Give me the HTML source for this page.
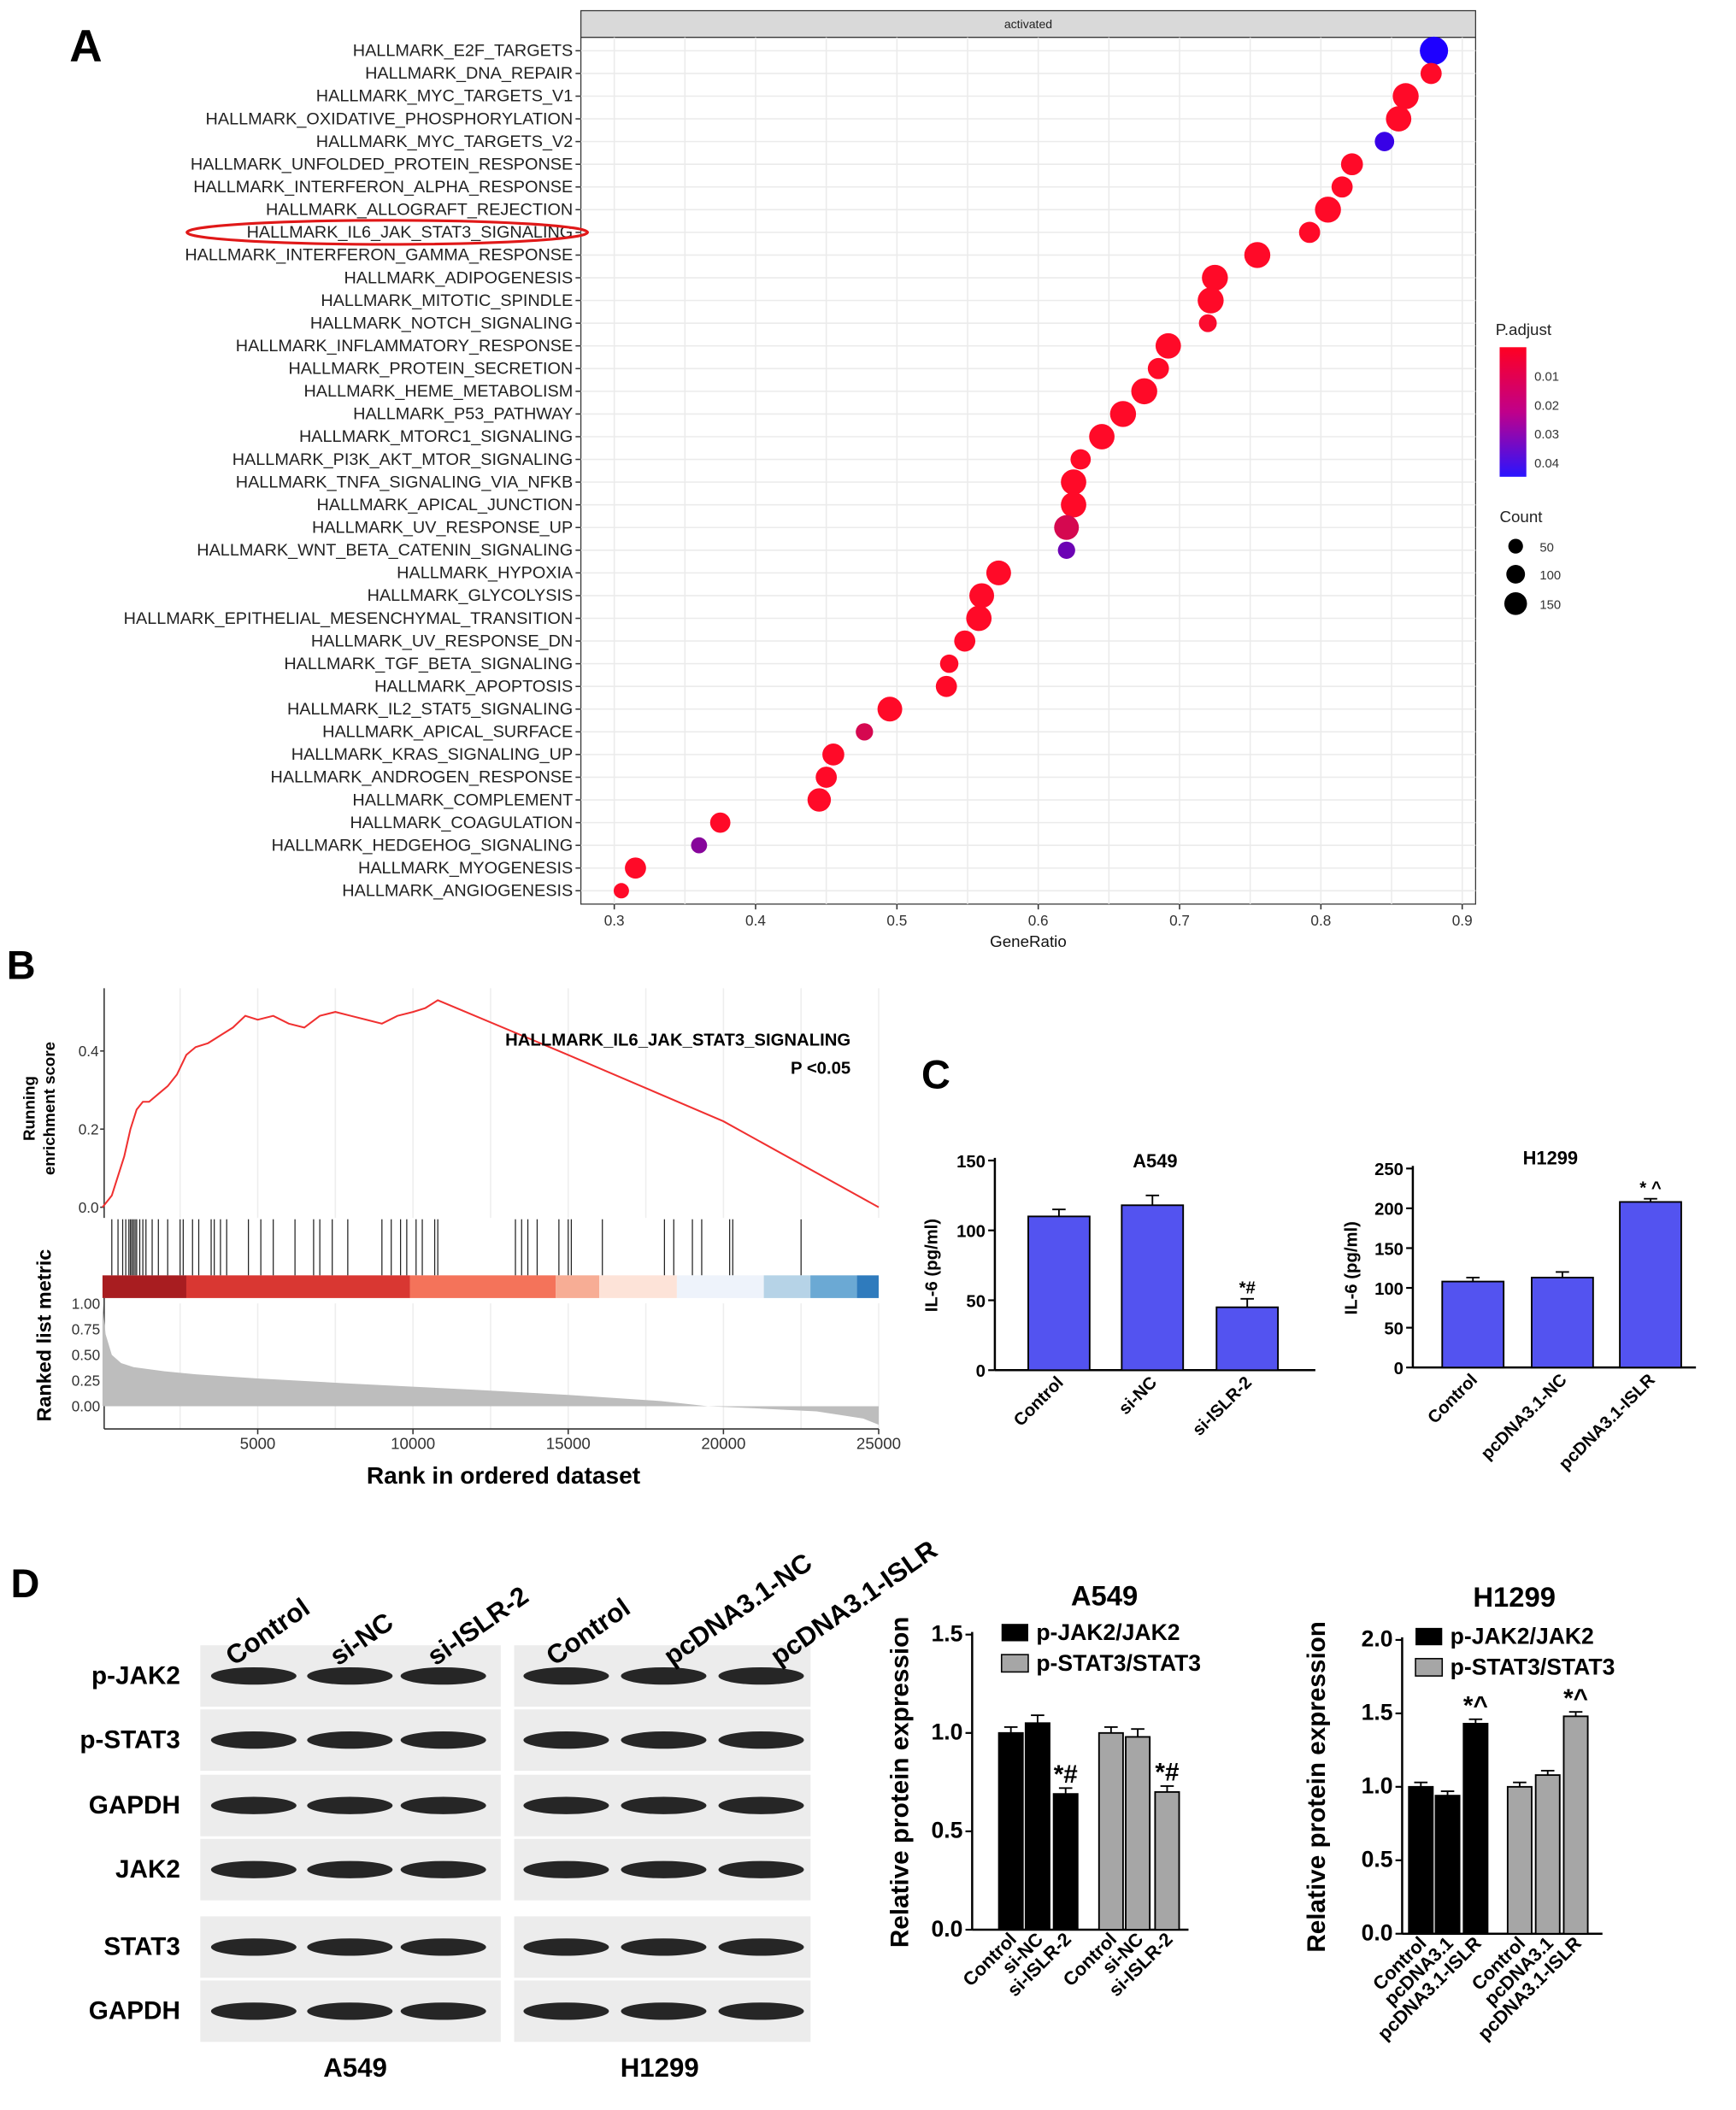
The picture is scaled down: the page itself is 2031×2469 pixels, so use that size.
<!DOCTYPE html>
<html><head><meta charset="utf-8"><style>
html,body{margin:0;padding:0;background:#fff}
svg{display:block;font-family:"Liberation Sans",Arial,sans-serif}
</style></head><body>
<svg id="fig" xmlns="http://www.w3.org/2000/svg" width="2031" height="2469" viewBox="0 0 1300 1580" preserveAspectRatio="none"></svg>
<script>
// ---------- Panel A data ----------
const pathways=["HALLMARK_E2F_TARGETS","HALLMARK_DNA_REPAIR","HALLMARK_MYC_TARGETS_V1","HALLMARK_OXIDATIVE_PHOSPHORYLATION","HALLMARK_MYC_TARGETS_V2","HALLMARK_UNFOLDED_PROTEIN_RESPONSE","HALLMARK_INTERFERON_ALPHA_RESPONSE","HALLMARK_ALLOGRAFT_REJECTION","HALLMARK_IL6_JAK_STAT3_SIGNALING","HALLMARK_INTERFERON_GAMMA_RESPONSE","HALLMARK_ADIPOGENESIS","HALLMARK_MITOTIC_SPINDLE","HALLMARK_NOTCH_SIGNALING","HALLMARK_INFLAMMATORY_RESPONSE","HALLMARK_PROTEIN_SECRETION","HALLMARK_HEME_METABOLISM","HALLMARK_P53_PATHWAY","HALLMARK_MTORC1_SIGNALING","HALLMARK_PI3K_AKT_MTOR_SIGNALING","HALLMARK_TNFA_SIGNALING_VIA_NFKB","HALLMARK_APICAL_JUNCTION","HALLMARK_UV_RESPONSE_UP","HALLMARK_WNT_BETA_CATENIN_SIGNALING","HALLMARK_HYPOXIA","HALLMARK_GLYCOLYSIS","HALLMARK_EPITHELIAL_MESENCHYMAL_TRANSITION","HALLMARK_UV_RESPONSE_DN","HALLMARK_TGF_BETA_SIGNALING","HALLMARK_APOPTOSIS","HALLMARK_IL2_STAT5_SIGNALING","HALLMARK_APICAL_SURFACE","HALLMARK_KRAS_SIGNALING_UP","HALLMARK_ANDROGEN_RESPONSE","HALLMARK_COMPLEMENT","HALLMARK_COAGULATION","HALLMARK_HEDGEHOG_SIGNALING","HALLMARK_MYOGENESIS","HALLMARK_ANGIOGENESIS"];
const geneRatio=[0.880,0.878,0.860,0.855,0.845,0.822,0.815,0.805,0.792,0.755,0.725,0.722,0.720,0.692,0.685,0.675,0.660,0.645,0.630,0.625,0.625,0.620,0.620,0.572,0.560,0.558,0.548,0.537,0.535,0.495,0.477,0.455,0.450,0.445,0.375,0.360,0.315,0.305];
const padj=[0.045,0.002,0.002,0.002,0.040,0.002,0.002,0.002,0.002,0.002,0.002,0.002,0.003,0.002,0.002,0.002,0.002,0.002,0.002,0.002,0.002,0.010,0.030,0.002,0.002,0.002,0.002,0.002,0.002,0.002,0.010,0.002,0.002,0.002,0.002,0.025,0.002,0.002];
const counts=[190,80,150,140,60,90,80,150,80,150,150,150,45,140,80,150,150,140,70,140,140,130,40,130,130,140,80,50,80,130,40,90,80,110,70,30,80,25];
const xTicksA=[0.3,0.4,0.5,0.6,0.7,0.8,0.9];
// ---------- Panel B data ----------
const esRank=[0,300,500,700,900,1100,1300,1500,1800,2100,2400,2700,3000,3400,3800,4200,4600,5000,5500,6000,6500,7000,7500,8000,8500,9000,9500,10000,10400,10800,15000,20000,25000];
const esVal=[0.0,0.03,0.08,0.13,0.2,0.25,0.27,0.27,0.29,0.31,0.34,0.39,0.41,0.42,0.44,0.46,0.49,0.48,0.49,0.47,0.46,0.49,0.5,0.49,0.48,0.47,0.49,0.5,0.51,0.53,0.39,0.22,0.0];
const hitRanks=[300,500,650,750,850,900,950,1000,1050,1100,1200,1300,1400,1600,1800,2100,2500,2600,2900,3100,3500,3600,3800,4000,4700,5100,5500,6200,6800,7000,7400,7900,9000,9300,9600,9800,10100,10300,10700,10800,13300,13500,13700,14000,14700,15000,15100,16100,18100,18400,19000,19300,20200,20300,22500];
const metricRank=[0,100,300,600,1000,2000,3000,5000,8000,10000,12000,15000,18000,19500,21000,23000,24500,25000];
const metricVal=[1.0,0.7,0.5,0.42,0.38,0.34,0.31,0.27,0.22,0.19,0.16,0.11,0.05,0.0,-0.02,-0.05,-0.12,-0.18];
const bandEnds=[2700,9900,14600,16000,18500,21300,22800,24300,25000];
const bandColors=["#a81d20","#d93732","#f4735a","#f7ad95","#fde3d8","#eef3fb","#b6d3e7","#6ba9d4","#2f7bbd"];
const rankTicks=[5000,10000,15000,20000,25000];
// ---------- Panel C data ----------
const cCatsA=["Control","si-NC","si-ISLR-2"];
const cValsA=[110,118,45];
const cErrA=[5,7,6];
const cCatsH=["Control","pcDNA3.1-NC","pcDNA3.1-ISLR"];
const cValsH=[108,113,208];
const cErrH=[5,7,4];
// ---------- Panel D data ----------
const dCatsA=["Control","si-NC","si-ISLR-2"];
const dJakA=[1.0,1.05,0.69];
const dStatA=[1.0,0.98,0.70];
const dCatsH=["Control","pcDNA3.1","pcDNA3.1-ISLR"];
const dJakH=[1.0,0.94,1.43];
const dStatH=[1.0,1.08,1.48];

const NS="http://www.w3.org/2000/svg";
const svg=document.getElementById('fig');
function el(tag,attrs,parent,text){const e=document.createElementNS(NS,tag);for(const k in attrs)e.setAttribute(k,attrs[k]);if(text!==undefined)e.textContent=text;(parent||svg).appendChild(e);return e;}
function grp(name){const g=el('g',{});return g;}

// ===== Panel A =====
(function(){
const g=grp('panel-a-dotplot');
const t=el('text',{x:52,y:46,'font-size':34,'font-weight':'bold'},g,'A');
const L=435,R=1105,T=28,B=677;
const xs=v=>460+(v-0.3)*1058.3;
const ys=i=>38+i*17.0;
el('rect',{x:L,y:8,width:R-L,height:20,fill:'#d9d9d9',stroke:'#333','stroke-width':0.8},g);
const st=el('text',{x:(L+R)/2,y:21,'font-size':9,'text-anchor':'middle',fill:'#222'},g,'activated');
el('rect',{x:L,y:T,width:R-L,height:B-T,fill:'#fff',stroke:'#333','stroke-width':0.8},g);
for(let v=0.3;v<=0.9001;v+=0.05){el('line',{x1:xs(v),x2:xs(v),y1:T,y2:B,stroke:'#ebebeb','stroke-width':1},g);}
pathways.forEach((p,i)=>el('line',{x1:L,x2:R,y1:ys(i),y2:ys(i),stroke:'#ebebeb','stroke-width':1},g));
xTicksA.forEach(v=>{el('line',{x1:xs(v),x2:xs(v),y1:B,y2:B+4,stroke:'#333'},g);const tt=el('text',{x:xs(v),y:B+16,'font-size':11,'text-anchor':'middle',fill:'#333'},g,String(v));});
const xt=el('text',{x:770,y:709,'font-size':12,'text-anchor':'middle',fill:'#111'},g,'GeneRatio');
function col(p){const f=Math.min(1,Math.max(0,(p-0.002)/0.043));const r=Math.round(255*(1-f)+30*f),b=Math.round(40*(1-f)+255*f);return `rgb(${r},${Math.round(10*(1-f))},${b})`;}
pathways.forEach((p,i)=>{
 el('line',{x1:L-4,x2:L,y1:ys(i),y2:ys(i),stroke:'#333'},g);
 const tl=el('text',{x:L-6,y:ys(i)+4,'font-size':12.7,'text-anchor':'end',fill:'#222'},g,p);
 const c=el('circle',{cx:xs(geneRatio[i]),cy:ys(i),r:3+Math.sqrt(counts[i])*0.55,fill:col(padj[i])},g);
 
 
});
const ov=el('ellipse',{cx:290,cy:ys(8),rx:150,ry:9,fill:'none',stroke:'#e01818','stroke-width':2},g);
const lg=el('defs',{},g);const gr=el('linearGradient',{id:'pg',x1:0,y1:0,x2:0,y2:1},lg);
el('stop',{offset:'0','stop-color':'#ff0022'},gr);el('stop',{offset:'0.5','stop-color':'#c0008a'},gr);el('stop',{offset:'1','stop-color':'#2a14ff'},gr);
const lt=el('text',{x:1120,y:251,'font-size':12,fill:'#222'},g,'P.adjust');
const cb=el('rect',{x:1123,y:260,width:20,height:97,fill:'url(#pg)'},g);
["0.01","0.02","0.03","0.04"].forEach((s,k)=>{el('text',{x:1149,y:285+k*21.7,'font-size':9.5,fill:'#333'},g,s);});
el('text',{x:1123,y:391,'font-size':12,fill:'#222'},g,'Count');
[[50,409,5.5],[100,430,7],[150,452,8.5]].forEach(a=>{el('circle',{cx:1135,cy:a[1],r:a[2],fill:'#000'},g);el('text',{x:1153,y:a[1]+4,'font-size':9.5,fill:'#333'},g,String(a[0]));});
})();

// ===== Panel B =====
(function(){
const g=grp('panel-b-gsea');
el('text',{x:5,y:733,'font-size':30,'font-weight':'bold'},g,'B');
const L=78,R=658;
const xr=r=>76.75+r*0.02325;
const yes=v=>904-v*292.5;
const ym=v=>1053-v*77;
rankTicks.concat([2500,7500,12500,17500,22500]).forEach(r=>{el('line',{x1:xr(r),x2:xr(r),y1:740,y2:912,stroke:'#eee'},g);el('line',{x1:xr(r),x2:xr(r),y1:976,y2:1070,stroke:'#eee'},g);});
el('line',{x1:L,x2:L,y1:740,y2:912,stroke:'#333'},g);
[0,0.2,0.4].forEach(v=>{el('text',{x:L-4,y:yes(v)+4,'font-size':11,'text-anchor':'end',fill:'#333'},g,v.toFixed(1));el('line',{x1:L-3,x2:L,y1:yes(v),y2:yes(v),stroke:'#333'},g);});
const yt=el('text',{transform:'translate(30,830) rotate(-90)','font-size':12,'font-weight':'bold','text-anchor':'middle'},g);
el('tspan',{x:0,dy:-4},yt,'Running');el('tspan',{x:0,dy:15},yt,'enrichment score');

const pts=esRank.map((r,i)=>xr(r)+','+yes(esVal[i])).join(' ');
const es=el('polyline',{points:pts,fill:'none',stroke:'#f03030','stroke-width':1.3},g);
el('text',{x:637,y:783,'font-size':13,'font-weight':'bold','text-anchor':'end'},g,'HALLMARK_IL6_JAK_STAT3_SIGNALING');
el('text',{x:637,y:804,'font-size':13,'font-weight':'bold','text-anchor':'end'},g,'P <0.05');
hitRanks.forEach(r=>{const h=el('line',{x1:xr(r),x2:xr(r),y1:913,y2:955,stroke:'#222','stroke-width':0.8},g);});
let prev=0;bandEnds.forEach((e,i)=>{const b=el('rect',{x:xr(prev),y:955,width:xr(e)-xr(prev),height:17,fill:bandColors[i]},g);prev=e;});
el('line',{x1:L,x2:L,y1:972,y2:1070,stroke:'#333'},g);el('line',{x1:L,x2:R,y1:1070,y2:1070,stroke:'#333'},g);
[0,0.25,0.5,0.75,1].forEach(v=>{el('text',{x:L-3,y:ym(v)+4,'font-size':11,'text-anchor':'end',fill:'#333'},g,v.toFixed(2));});
let ap='M'+xr(0)+','+ym(0);metricRank.forEach((r,i)=>ap+=' L'+xr(r)+','+ym(metricVal[i]));ap+=' L'+xr(25000)+','+ym(0)+'Z';
const ar=el('path',{d:ap,fill:'#bdbdbd'},g);
rankTicks.forEach(r=>{el('line',{x1:xr(r),x2:xr(r),y1:1070,y2:1074,stroke:'#333'},g);el('text',{x:xr(r),y:1085,'font-size':12,'text-anchor':'middle',fill:'#333'},g,String(r));});
el('text',{transform:'translate(38,1000) rotate(-90)','font-size':15,'font-weight':'bold','text-anchor':'middle'},g,'Ranked list metric');
el('text',{x:377,y:1111,'font-size':18,'font-weight':'bold','text-anchor':'middle'},g,'Rank in ordered dataset');
})();

function barChart(name,o){
 const g=grp(name);
 const ys=v=>o.y0-(v-0)*(o.y0-o.yTop)/o.vTop;
 el('line',{x1:o.ax,x2:o.ax,y1:ys(o.vTop)-2,y2:o.y0,stroke:'#000','stroke-width':1.6},g);
 el('line',{x1:o.ax,x2:o.xEnd,y1:o.y0,y2:o.y0,stroke:'#000','stroke-width':1.6},g);
 o.ticks.forEach(v=>{el('line',{x1:o.ax-5,x2:o.ax,y1:ys(v),y2:ys(v),stroke:'#000','stroke-width':1.4},g);el('text',{x:o.ax-7,y:ys(v)+5,'font-size':o.tfs,'font-weight':'bold','text-anchor':'end'},g,o.fmt(v));});
 o.series.forEach(s=>{s.vals.forEach((v,i)=>{const x=s.x[i];
  const r=el('rect',{x:x,y:ys(v),width:s.w,height:o.y0-ys(v),fill:s.fill,stroke:'#000','stroke-width':1.2},g);
  
  
  const e=s.err[i];el('line',{x1:x+s.w/2,x2:x+s.w/2,y1:ys(v),y2:ys(v+e),stroke:'#000','stroke-width':1.2},g);el('line',{x1:x+s.w/2-5,x2:x+s.w/2+5,y1:ys(v+e),y2:ys(v+e),stroke:'#000','stroke-width':1.2},g);
  if(s.ann&&s.ann[i])el('text',{x:x+s.w/2,y:ys(v+e)-4,'font-size':o.afs,'font-weight':'bold','text-anchor':'middle'},g,s.ann[i]);
 });});
 o.cats.forEach((c,i)=>{el('text',{transform:`translate(${o.catX[i]},${o.y0+o.cdy}) rotate(-45)`,'font-size':o.cfs,'font-weight':'bold','text-anchor':'end'},g,c);});
 el('text',{x:o.titleX,y:o.titleY,'font-size':o.titleFs,'font-weight':'bold','text-anchor':'middle'},g,o.title);
 el('text',{transform:`translate(${o.ylx},${(o.y0+ys(o.vTop))/2}) rotate(-90)`,'font-size':o.ylfs,'font-weight':'bold','text-anchor':'middle'},g,o.ylab);
 return {g,ys};
}
el('text',{x:690,y:815,'font-size':30,'font-weight':'bold'},svg,'C');
barChart('chart-c-a549',{ax:745,xEnd:985,y0:1026,yTop:869,vTop:150,ticks:[0,50,100,150],fmt:v=>String(v),tfs:13,afs:13,
 series:[{key:'il6',vals:cValsA,err:cErrA,x:[770,840,911],w:46,fill:'#5353f0',ann:['','','*#']}],
 cats:cCatsA,catX:[797,867,938],cdy:10,cfs:13,title:'A549',titleX:865,titleY:874,titleFs:14,ylab:'IL-6 (pg/ml)',ylx:702,ylfs:13});
barChart('chart-c-h1299',{ax:1058,xEnd:1270,y0:1024,yTop:875,vTop:250,ticks:[0,50,100,150,200,250],fmt:v=>String(v),tfs:13,afs:13,
 series:[{key:'il6',vals:cValsH,err:cErrH,x:[1080,1147,1213],w:46,fill:'#5353f0',ann:['','','* ^']}],
 cats:cCatsH,catX:[1107,1174,1240],cdy:10,cfs:13,title:'H1299',titleX:1161,titleY:872,titleFs:14,ylab:'IL-6 (pg/ml)',ylx:1016,ylfs:13});

(function(){
const g=grp('panel-d-western-blots');
el('text',{x:8,y:1196,'font-size':30,'font-weight':'bold'},g,'D');
const rows=["p-JAK2","p-STAT3","GAPDH","JAK2","STAT3","GAPDH"];
const ry=[1255,1303,1352,1400,1458,1506];
const blocks=[{x:150,w:225,lanes:[190,262,332]},{x:385,w:222,lanes:[424,497,570]}];
rows.forEach((r,i)=>{
 el('text',{x:135,y:ry[i]+6,'font-size':19,'font-weight':'bold','text-anchor':'end'},g,r);
 blocks.forEach(b=>{
  el('rect',{x:b.x,y:ry[i]-23,width:b.w,height:46,fill:'#ececec'},g);
  b.lanes.forEach(lx=>{const e=el('ellipse',{cx:lx,cy:ry[i],rx:32,ry:6.5,fill:'#262626'},g);});
 });
});
[["Control",212],["si-NC",290],["si-ISLR-2",363],["Control",452],["pcDNA3.1-NC",540],["pcDNA3.1-ISLR",620]].forEach(a=>{
 el('text',{transform:`translate(${a[1]},1222) rotate(-35)`,'font-size':20,'font-weight':'bold','text-anchor':'start','dx':-45},g,a[0]);
});
el('text',{x:266,y:1555,'font-size':20,'font-weight':'bold','text-anchor':'middle'},g,'A549');
el('text',{x:494,y:1555,'font-size':20,'font-weight':'bold','text-anchor':'middle'},g,'H1299');
})();

function legendD(x,y){
 el('rect',{x:x,y:y-8,width:20,height:13,fill:'#000'});el('text',{x:x+26,y:y+4,'font-size':17,'font-weight':'bold'},svg,'p-JAK2/JAK2');
 el('rect',{x:x,y:y+15,width:20,height:13,fill:'#a6a6a6',stroke:'#000'});el('text',{x:x+26,y:y+27,'font-size':17,'font-weight':'bold'},svg,'p-STAT3/STAT3');
}
barChart('chart-d-a549',{ax:728,xEnd:890,y0:1445,yTop:1224,vTop:1.5,ticks:[0,0.5,1,1.5],fmt:v=>v.toFixed(1),tfs:17,afs:19,
 series:[{key:'pjak2',vals:dJakA,err:[0.03,0.04,0.03],x:[748,768,789],w:18,fill:'#000',ann:['','','*#']},
         {key:'pstat3',vals:dStatA,err:[0.03,0.04,0.03],x:[823,843,865],w:18,fill:'#a6a6a6',ann:['','','*#']}],
 cats:dCatsA.concat(dCatsA),catX:[762,782,803,837,857,879],cdy:8,cfs:14,title:'A549',titleX:827,titleY:1202,titleFs:21,ylab:'Relative protein expression',ylx:680,ylfs:19});
legendD(750,1224);
barChart('chart-d-h1299',{ax:1050,xEnd:1200,y0:1448,yTop:1228,vTop:2.0,ticks:[0,0.5,1,1.5,2],fmt:v=>v.toFixed(1),tfs:17,afs:19,
 series:[{key:'pjak2',vals:dJakH,err:[0.03,0.03,0.03],x:[1055,1075,1096],w:18,fill:'#000',ann:['','','*^']},
         {key:'pstat3',vals:dStatH,err:[0.03,0.03,0.03],x:[1129,1150,1171],w:18,fill:'#a6a6a6',ann:['','','*^']}],
 cats:dCatsH.concat(dCatsH),catX:[1069,1089,1110,1143,1164,1185],cdy:8,cfs:14,title:'H1299',titleX:1134,titleY:1203,titleFs:21,ylab:'Relative protein expression',ylx:992,ylfs:19});
legendD(1060,1227);
</script>
</body></html>
